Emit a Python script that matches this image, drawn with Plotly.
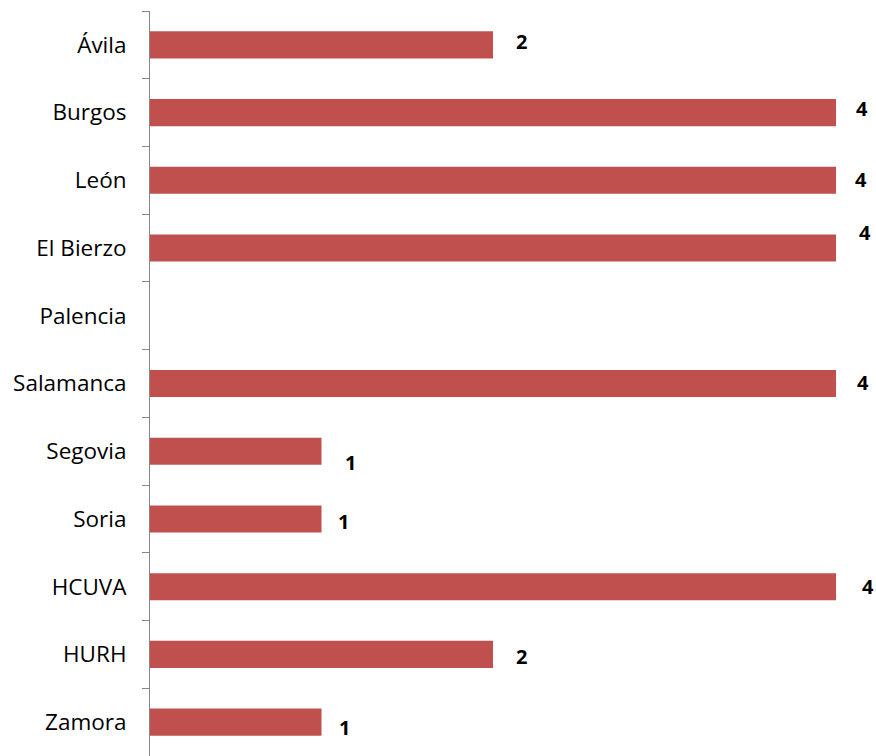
import plotly.graph_objects as go

# hospitales / areas de salud
areas = ["Ávila", "Burgos", "León", "El Bierzo", "Palencia", "Salamanca",
         "Segovia", "Soria", "HCUVA", "HURH", "Zamora"]
valores = [2, 4, 4, 4, None, 4, 1, 1, 4, 2, 1]

# desplazamiento manual de las etiquetas (px), como en la hoja original
dx = [28, 26, 25, 29, 0, 27, 29, 22, 32, 28, 23]
dy = [3, 4, 1, 16, 0, 1, -11, -3, 0, -2, -5]

fig = go.Figure(go.Bar(
    x=valores, y=areas, orientation="h",
    marker=dict(color="#C0504D", line=dict(width=0)),
    width=0.4,
))

for area, v, sx, sy in zip(areas, valores, dx, dy):
    if v is None:
        continue
    fig.add_annotation(x=v, y=area, text=str(v), showarrow=False,
                       xshift=sx, yshift=sy, xanchor="center",
                       font=dict(family="Open Sans", size=20, color="black", weight="bold"))

fig.update_yaxes(
    categoryorder="array", categoryarray=areas, autorange="reversed",
    showline=True, linecolor="#868686", linewidth=1,
    ticks="outside", ticklen=7, tickcolor="#868686", tickson="boundaries",
    ticklabelstandoff=18, showgrid=False, automargin=False,
    tickfont=dict(family="Open Sans", size=22.5, color="black"),
)
fig.update_xaxes(range=[0, 4.233], visible=False, showgrid=False, zeroline=False)

fig.update_layout(
    width=876, height=756,
    margin=dict(l=150, r=0, t=11, b=0),
    plot_bgcolor="white", paper_bgcolor="white",
    showlegend=False,
)

# quitar el margen por defecto del body para que la figura ocupe toda la ventana
fig.write_html("out.html", config={"displayModeBar": False},
               post_script="document.body.style.margin='0';document.body.style.overflow='hidden';")
